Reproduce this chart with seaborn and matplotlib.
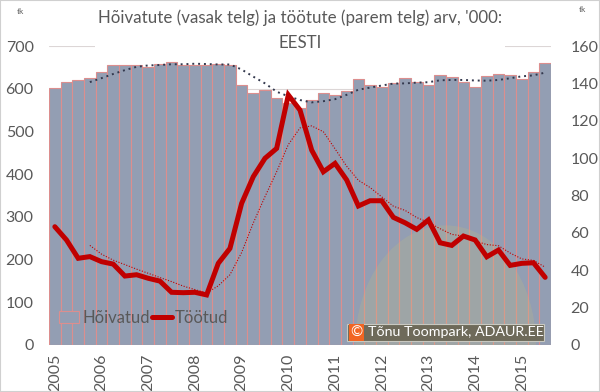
import numpy as np
import pandas as pd
import matplotlib
matplotlib.use("Agg")
import matplotlib.pyplot as plt
from matplotlib.patches import Patch, Ellipse, Rectangle
from matplotlib.lines import Line2D
import seaborn as sns

# ---- data ----
years = [2005, 2006, 2007, 2008, 2009, 2010, 2011, 2012, 2013, 2014, 2015]
quarters = [f"{y}Q{q}" for y in years for q in range(1, 5)][:43]
hoivatud = [601, 616, 620, 625, 638, 655, 656, 656, 651, 659, 663, 656, 656, 656,
            659, 656, 609, 589, 596, 578, 566, 554, 574, 589, 585, 595, 622, 608,
            605, 613, 624, 615, 609, 631, 627, 615, 604, 629, 634, 631, 622, 638, 660]
tootud = [63.3, 56.2, 46.4, 47.3, 44.6, 43.3, 36.9, 37.6, 35.7, 34.2, 28.2, 28.0,
          28.2, 26.8, 43.7, 51.7, 75.8, 90.1, 99.9, 105.2, 133.8, 125.7, 104.3, 92.7,
          97.2, 88.3, 74.4, 77.2, 77.2, 68.3, 65.4, 61.9, 66.9, 54.7, 53.3, 58.3,
          56.2, 47.2, 50.8, 42.6, 43.7, 44.0, 36.2]
year_labels = [str(y) for y in years]
title = "Hõivatute (vasak telg) ja töötute (parem telg) arv, '000:\nEESTI"

df = pd.DataFrame({"kvartal": quarters, "Hõivatud": hoivatud, "Töötud": tootud})
df["pos"] = np.arange(len(df))
df["h_ma"] = df["Hõivatud"].rolling(4).mean()
df["t_ma"] = df["Töötud"].rolling(4).mean()

# ---- style ----
sns.set_style("white")
plt.rcParams["font.family"] = ["Lato", "DejaVu Sans"]
txt = "#595959"
bar_c = "#939EB3"
bar_edge = "#DC8E8E"
red = "#C00000"

fig = plt.figure(figsize=(6.0, 3.92), dpi=100)
ax = fig.add_axes([49/600, 47/392, 502/600, 299/392])

sns.barplot(data=df, x="pos", y="Hõivatud", ax=ax, color=bar_c, saturation=1,
            width=1.0, edgecolor=bar_edge, linewidth=0.8, zorder=2)
ax.set_xlim(-0.5, len(df) - 0.5)
ax.set_ylim(0, 700)
ax.set_yticks(range(0, 701, 100))
ax.grid(axis="y", color="#DCD6D6", lw=0.8, zorder=0)
ax.set_axisbelow(True)

# faint watermark mound
ax.add_patch(Ellipse((0.79, 0.0), 0.36, 0.80, transform=ax.transAxes,
                     facecolor="#C9C27A", alpha=0.22, lw=0, zorder=3))

sns.lineplot(data=df, x="pos", y="h_ma", ax=ax, color="#33384D", lw=1.4,
             linestyle=(0, (1, 2)), zorder=4)

ax2 = ax.twinx()
sns.lineplot(data=df, x="pos", y="t_ma", ax=ax2, color=red, lw=0.8,
             linestyle=(0, (1, 1.5)), zorder=3)
sns.lineplot(data=df, x="pos", y="Töötud", ax=ax2, color=red, lw=3.6,
             solid_joinstyle="miter", zorder=4)
ax2.set_ylim(0, 160)
ax2.set_yticks(range(0, 161, 20))
ax2.set_xlim(-0.5, len(df) - 0.5)

ax.set_xticks(np.arange(0, len(df), 4))
ax.set_xticklabels(year_labels, rotation=90)
for a in (ax, ax2):
    a.set_xlabel("")
    a.set_ylabel("")
    for s in a.spines.values():
        s.set_visible(False)
    a.tick_params(length=0, labelsize=11.5, labelcolor=txt)
ax.tick_params(axis="y", pad=11)
ax2.tick_params(axis="y", pad=14)
ax.tick_params(axis="x", pad=6)

handles = [Patch(facecolor=bar_c, edgecolor=bar_edge, lw=0.8),
           Line2D([0], [0], color=red, lw=3.6)]
leg = ax.legend(handles, ["Hõivatud", "Töötud"], loc="center left",
                bbox_to_anchor=(0.0, 0.09), borderaxespad=0.2, ncol=2,
                frameon=False, fontsize=12, handlelength=1.2, handletextpad=0.2,
                columnspacing=0.1, labelcolor=txt)
leg.set_zorder(6)

fig.text(0.5, 1 - 9/392, title, ha="center", va="top", fontsize=12.2,
         color=txt, linespacing=1.7,
         bbox=dict(facecolor="white", edgecolor="none", pad=2))
fig.text(20/600, 1 - 12/392, "tk", fontsize=6, color=txt, ha="center", va="center")
fig.text(582/600, 1 - 10/392, "tk", fontsize=6, color=txt, ha="center", va="center")

# copyright stamp
fig.patches.append(Rectangle((347/600, 1 - 341/392), 197/600, 17/392,
                             transform=fig.transFigure, facecolor="#6E6A5A",
                             edgecolor="#C8C8C0", lw=0.8, zorder=9))
fig.text(350/600, 1 - 332.5/392, "©", fontsize=10.5, color="white", ha="left",
         va="center", zorder=11,
         bbox=dict(facecolor="#F26522", edgecolor="none", pad=1.0))
fig.text(368/600, 1 - 332.5/392, "Tõnu Toompark, ADAUR.EE", fontsize=10.3,
         color="white", ha="left", va="center", zorder=10)

fig.patches.append(Rectangle((0, 0), 1, 1, transform=fig.transFigure,
                             fill=False, edgecolor="#D0D0D0", lw=1.5))

fig.savefig("out.png", dpi=100)
